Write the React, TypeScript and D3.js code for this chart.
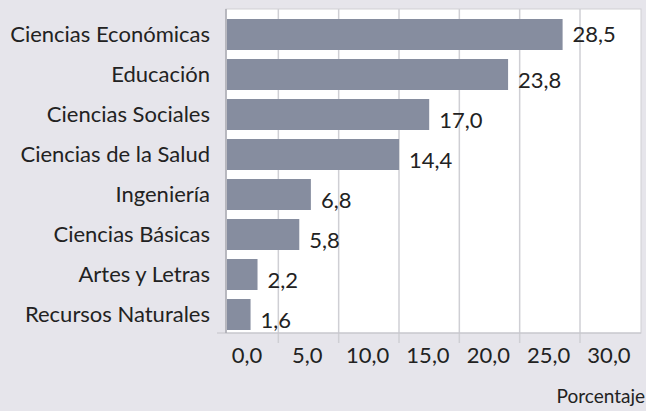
import * as d3 from "d3";

const categories = [
  "Ciencias Económicas",
  "Educación",
  "Ciencias Sociales",
  "Ciencias de la Salud",
  "Ingeniería",
  "Ciencias Básicas",
  "Artes y Letras",
  "Recursos Naturales",
];
const values = [28.5, 23.8, 17.0, 14.4, 6.8, 5.8, 2.2, 1.6];
const tickValues = [0, 5, 10, 15, 20, 25, 30];
const axisTitle = "Porcentaje";

const width = 646;
const height = 411;
const plotLeft = 226;
const plotRight = 641;
const plotTop = 9;
const plotBottom = 333;
const font = "Lato, 'DejaVu Sans', sans-serif";
const fmt = (v: number) => d3.format(".1f")(v).replace(".", ",");

export default function App() {
  const x = d3.scaleLinear().domain([0, 35]).range([232, 638]);
  // tick labels sit a little to the right of the grid lines in the original
  const xLabel = d3.scaleLinear().domain([0, 30]).range([247, 609]);
  const y = d3
    .scaleBand<string>()
    .domain(categories)
    .range([14.5, 334.5])
    .paddingInner(0.225)
    .paddingOuter(0.1125);

  return (
    <svg
      width={width}
      height={height}
      style={{ position: "absolute", left: 0, top: 0, background: "#e6e5eb" }}
    >
      <rect x={0} y={0} width={width} height={height} fill="#e6e5eb" />
      <rect
        x={plotLeft}
        y={plotTop}
        width={plotRight - plotLeft}
        height={plotBottom - plotTop}
        fill="#fff"
        stroke="#cfcfd4"
      />
      {tickValues.slice(1).map((t) => (
        <line
          key={t}
          x1={xLabel(t) - 29}
          x2={xLabel(t) - 29}
          y1={plotTop}
          y2={plotBottom + 10}
          stroke="#cfcfd4"
          strokeWidth={1.5}
        />
      ))}
      <line x1={217} x2={plotRight} y1={plotBottom} y2={plotBottom} stroke="#c4c4ca" strokeWidth={1.2} />
      <line x1={plotLeft} x2={plotLeft} y1={plotTop} y2={plotBottom} stroke="#aaaab2" strokeWidth={1.5} />
      {categories.map((c, i) => (
        <g key={c}>
          <rect
            x={plotLeft + 1}
            y={y(c)}
            width={x(values[i]) - plotLeft - 1}
            height={y.bandwidth()}
            fill="#868d9f"
          />
          <text
            x={x(values[i]) + 10}
            y={y(c)! + y.bandwidth() / 2 + (i === 0 ? 0 : 6)}
            dy="0.35em"
            fontFamily={font}
            fontSize={22}
            fill="#222"
          >
            {fmt(values[i])}
          </text>
          <text
            x={210}
            y={y(c)! + y.bandwidth() / 2}
            dy="0.35em"
            textAnchor="end"
            fontFamily={font}
            fontSize={22}
            fill="#222"
          >
            {c}
          </text>
        </g>
      ))}
      {tickValues.map((t) => (
        <text
          key={t}
          x={xLabel(t)}
          y={355}
          dy="0.35em"
          textAnchor="middle"
          fontFamily={font}
          fontSize={22}
          fill="#222"
        >
          {fmt(t)}
        </text>
      ))}
      <text
        x={645}
        y={403}
        textAnchor="end"
        fontFamily={font}
        fontSize={19}
        fill="#222"
      >
        {axisTitle}
      </text>
    </svg>
  );
}
